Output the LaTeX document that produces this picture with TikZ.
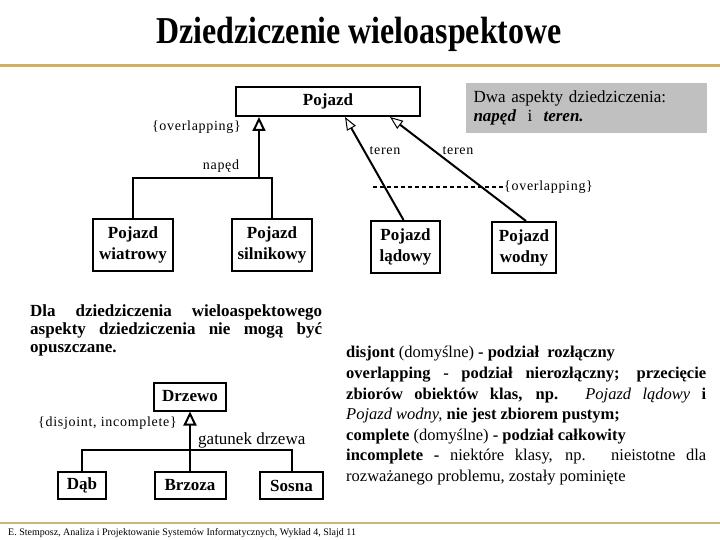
\documentclass[tikz,border=0pt]{standalone}
\usepackage{fontspec}
\setmainfont{Liberation Serif}
\newfontfamily\lbl[LetterSpace=5]{Liberation Serif}
\usetikzlibrary{arrows.meta}
\definecolor{goldline}{RGB}{210,176,96}
\definecolor{goldthin}{RGB}{205,180,120}
\definecolor{notegray}{RGB}{192,192,192}
\begin{document}
\begin{tikzpicture}[x=1pt,y=-1pt,
  cls/.style={draw, line width=2pt, font=\fontsize{17}{21}\selectfont\bfseries, align=center, inner sep=0pt},
  conn/.style={line width=2pt},
  gen/.style={line width=2pt, -{Triangle[open,length=14pt,width=13pt]}},
  asp/.style={line width=2pt, -{Triangle[open,length=13pt,width=10pt,line width=1pt]}},
  lab/.style={font=\lbl\fontsize{14}{14}\selectfont, inner sep=0pt},
  body/.style={font=\fontsize{16.5}{20}\selectfont, anchor=base west, inner sep=0pt},
  lead/.style={font=\fontsize{17}{20}\selectfont\bfseries, anchor=base west, inner sep=0pt},
]
\useasboundingbox (0,0) rectangle (720,540);
\fill[white] (0,0) rectangle (720,540);

% title and rules
\node[font=\fontsize{38}{38}\selectfont\bfseries, inner sep=0pt] (title) at (359,34) {\scalebox{0.84}[1]{Dziedziczenie wieloaspektowe}};
\draw[goldline, line width=3pt] (0,66) -- (720,66);
\draw[goldthin, line width=1.2pt] (0,523) -- (720,523);
\node[font=\fontsize{10}{10}\selectfont, anchor=base west, inner sep=0pt] (foot) at (8,535) {E. Stemposz, Analiza i Projektowanie Systemów Informatycznych, Wykład 4, Slajd 11};

% upper diagram
\node[cls, minimum width=184, minimum height=29] (poj) at (328,101.5) {Pojazd};
\node[cls, minimum width=80, minimum height=52] (wia) at (133,245) {Pojazd\\wiatrowy};
\node[cls, minimum width=80, minimum height=52] (sil) at (272,245) {Pojazd\\silnikowy};
\node[cls, minimum width=69, minimum height=52] (lad) at (405.5,247) {Pojazd\\lądowy};
\node[cls, minimum width=64, minimum height=51] (wod) at (524,247.5) {Pojazd\\wodny};

\coordinate (j1) at (259,178);
\draw[conn] (wia.north) |- (sil.north |- j1) -- (sil.north);
\draw[gen] (j1) -- (poj.south -| j1);
\draw[asp] ([xshift=-2pt]lad.north) -- ([xshift=17pt]poj.south);
\draw[asp] ([xshift=2pt]wod.north) -- ([xshift=62pt]poj.south);

\node[lab, anchor=east] (ovl1) at (241,127) {\{overlapping\}};
\node[lab] (naped) at (221,166) {napęd};
\node[lab] (ter1) at (385,151) {teren};
\node[lab] (ter2) at (458,151) {teren};
\node[lab, anchor=west] (ovl2) at (504,187) {\{overlapping\}};
\coordinate (dash0) at (373,187);
\draw[line width=1.5pt, dash pattern=on 4pt off 3pt] (dash0) -- (ovl2.west);

% note
\node[fill=notegray, minimum width=241, minimum height=50, inner sep=0pt, font=\fontsize{17}{19}\selectfont, align=left, text width=226pt] (note) at (586.5,108)
  {\makebox[226pt][s]{Dwa aspekty dziedziczenia:}\\\textbf{\textit{napęd}}\ \ i\ \ \textbf{\textit{teren.}}};

% left text
\node[lead] (l1) at (30,316) {\makebox[292pt][s]{Dla dziedziczenia wieloaspektowego}};
\node[lead] (l2) at (30,334) {\makebox[292pt][s]{aspekty dziedziczenia nie mogą być}};
\node[lead] (l3) at (30,352) {opuszczane.};

% lower diagram
\node[cls, minimum width=72, minimum height=28] (drz) at (190,396.5) {Drzewo};
\node[cls, minimum width=48, minimum height=27] (dab) at (82,485.5) {Dąb};
\node[cls, minimum width=71, minimum height=27] (brz) at (190,485.5) {Brzoza};
\node[cls, minimum width=63, minimum height=27] (sos) at (291.5,485.5) {Sosna};
\coordinate (j2) at (190,450);
\draw[conn] (dab.north) |- (sos.north |- j2) -- (sos.north);
\draw[conn] (brz.north) -- (j2);
\draw[gen] (j2) -- (drz.south);
\node[lab, anchor=east] (dis) at (177,423) {\{disjoint, incomplete\}};
\node[font=\fontsize{17}{17}\selectfont, anchor=west, inner sep=0pt] (gat) at (198,440) {gatunek drzewa};

% right text
\node[body] (r1) at (346,357) {\textbf{disjont} (domyślne) \textbf{- podział\ \ rozłączny}};
\node[body] (r2) at (346,378) {\makebox[360pt][s]{\textbf{overlapping - podział nierozłączny; przecięcie}}};
\node[body] (r3) at (346,399) {\makebox[360pt][s]{\textbf{zbiorów obiektów klas, np.} \textit{Pojazd lądowy} \textbf{i}}};
\node[body] (r4) at (346,419.5) {\textit{Pojazd wodny,} \textbf{nie jest zbiorem pustym;}};
\node[body] (r5) at (346,440) {\textbf{complete} (domyślne) \textbf{- podział całkowity}};
\node[body] (r6) at (346,460.5) {\makebox[360pt][s]{\textbf{incomplete -} niektóre klasy, np. nieistotne dla}};
\node[body] (r7) at (346,481) {rozważanego problemu, zostały pominięte};
\end{tikzpicture}
\end{document}
